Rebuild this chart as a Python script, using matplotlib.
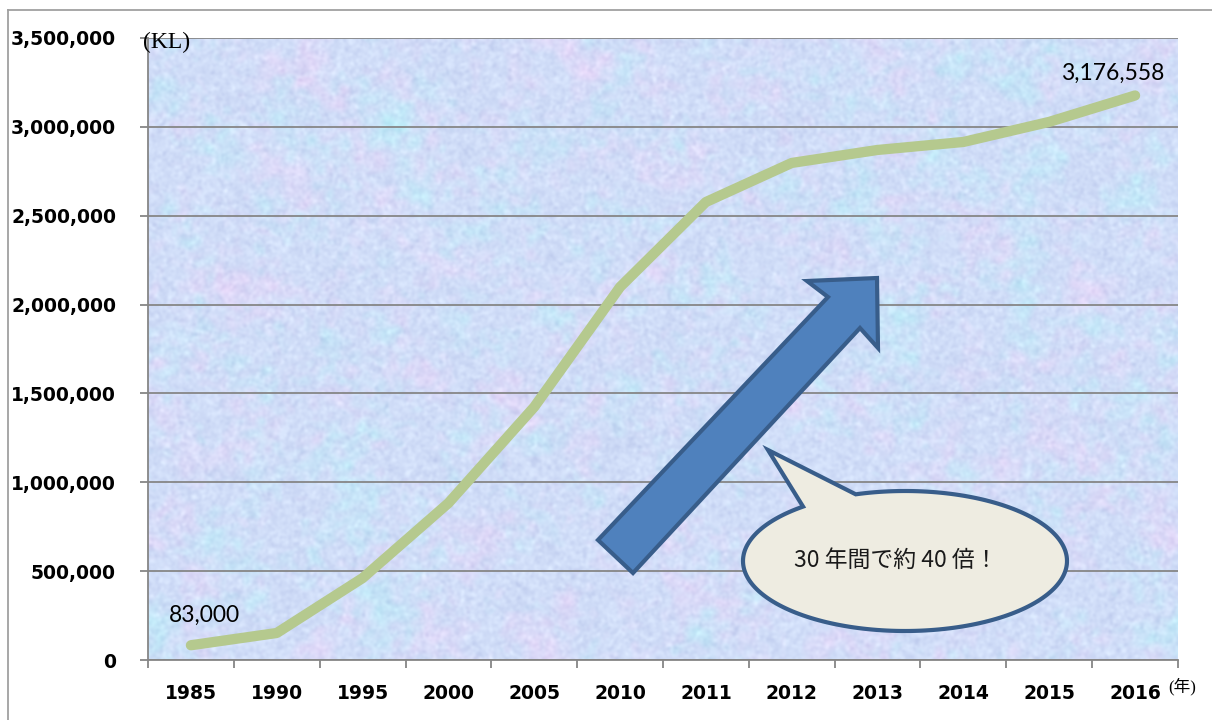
import numpy as np
import matplotlib
matplotlib.use("Agg")
import matplotlib.pyplot as plt
from matplotlib.patches import Polygon
from matplotlib.lines import Line2D

years = ['1985', '1990', '1995', '2000', '2005', '2010',
         '2011', '2012', '2013', '2014', '2015', '2016']
volume = [83000, 152000, 461000, 883000, 1424000, 2099000,
          2577000, 2797000, 2870000, 2915000, 3028000, 3176558]
yticks = [0, 500000, 1000000, 1500000, 2000000, 2500000, 3000000, 3500000]
first_label = '83,000'
last_label = '3,176,558'
note = '30 年間で約 40 倍！'

W, H = 1212, 720
fig = plt.figure(figsize=(W / 100, H / 100), dpi=100)


def px(x, y):
    # pixel position -> figure fraction
    return (x / W, 1 - y / H)


ax = fig.add_axes([148 / W, 60 / H, 1030 / W, 622 / H])


# pale textured background of the plot area
def smooth(a, s):
    fy = np.fft.fftfreq(a.shape[0])[:, None]
    fx = np.fft.fftfreq(a.shape[1])[None, :]
    g = np.exp(-2 * (np.pi * s) ** 2 * (fx ** 2 + fy ** 2))
    r = np.real(np.fft.ifft2(np.fft.fft2(a) * g))
    return r / r.std()


rng = np.random.default_rng(3)
h, w = 622, 1030
pink = 0.6 * smooth(rng.normal(size=(h, w)), 14) + 0.4 * smooth(rng.normal(size=(h, w)), 4)
cyan = 0.6 * smooth(rng.normal(size=(h, w)), 14) + 0.4 * smooth(rng.normal(size=(h, w)), 4)
grain = smooth(rng.normal(size=(h, w)), 1.5)
base = np.array([208, 221, 248], float)
img = (base[None, None, :]
       + 5 * np.clip(pink, 0, None)[..., None] * np.array([1.5, -0.5, 0.0])
       + 6 * np.clip(cyan, 0, None)[..., None] * np.array([-1.2, 0.9, 0.0])
       + 4 * grain[..., None] * np.array([1, 1, 0.6]))
img = np.clip(img, 0, 255) / 255
ax.imshow(img, extent=(-0.5, 11.5, 0, 3500000), aspect='auto', zorder=0,
          interpolation='bilinear')

x = np.arange(len(years))
ax.plot(x, volume, color='#B5C98E', lw=7.4, solid_capstyle='round',
        solid_joinstyle='round', zorder=3)

ax.set_xlim(-0.5, 11.5)
ax.set_ylim(0, 3500000)
ax.set_yticks(yticks)
ax.set_yticklabels([f'{v:,}' for v in yticks])
ax.set_xticks(x)
ax.set_xticklabels(years)
ax.set_xticks(np.arange(-0.5, 12, 1), minor=True)
ax.grid(axis='y', color='#868686', lw=1.3)
ax.set_axisbelow(False)
for gl in ax.get_ygridlines():
    gl.set_zorder(1)

for s in ['top', 'right']:
    ax.spines[s].set_visible(False)
for s in ['left', 'bottom']:
    ax.spines[s].set_color('#868686')
    ax.spines[s].set_linewidth(1.3)
    ax.spines[s].set_zorder(2)

ax.tick_params(axis='y', length=6, width=1.3, color='#868686', pad=17,
               labelsize=13.5)
ax.tick_params(axis='x', which='major', length=0, pad=17, labelsize=13.5)
ax.tick_params(axis='x', which='minor', length=6, width=1.3, color='#868686')
for lab in ax.get_xticklabels() + ax.get_yticklabels():
    lab.set_fontfamily('DejaVu Sans')
    lab.set_fontweight('bold')

ax.annotate(first_label, (x[0], volume[0]), xytext=(14, 30),
            textcoords='offset pixels', ha='center', va='center',
            fontsize=16.5, family='Lato', zorder=4)
ax.annotate(last_label, (x[-1], volume[-1]), xytext=(-22, 22),
            textcoords='offset pixels', ha='center', va='center',
            fontsize=16.5, family='Lato', zorder=4)

# unit labels
fig.text(*px(143, 42), '(KL)', family='Liberation Serif', fontsize=17,
         ha='left', va='center')
fig.text(*px(1168, 687), '(年)', family=['Liberation Serif', 'Noto Sans CJK JP'],
         fontsize=12, ha='left', va='center')

# big blue arrow
arrow_px = [(598, 540), (828, 297), (807, 281), (877, 278),
            (878, 348), (860, 328), (633, 573)]
fig.add_artist(Polygon([px(*p) for p in arrow_px], closed=True,
                       facecolor='#4F81BD', edgecolor='#385D8A', lw=3,
                       joinstyle='miter', transform=fig.transFigure, zorder=5))

# speech bubble
cx, cy, a, b = 905, 561, 162, 70
t = np.radians(np.linspace(252.3, 591, 200))
pts = [(cx + a * np.cos(tt), cy + b * np.sin(tt)) for tt in t]
pts.append((768, 450))
fig.add_artist(Polygon([px(*p) for p in pts], closed=True,
                       facecolor='#EEECE1', edgecolor='#385D8A', lw=3,
                       joinstyle='miter', transform=fig.transFigure, zorder=6))
fig.text(*px(896, 560), note, family=['Noto Sans CJK JP', 'DejaVu Sans'],
         fontsize=16.5, ha='center', va='center', zorder=7, color='#1A1A1A')

# outer chart frame
fig.add_artist(Line2D([8 / W, 1], [1 - 10 / H] * 2, color='#A0A0A0', lw=1.3,
                      transform=fig.transFigure))
fig.add_artist(Line2D([8 / W] * 2, [0, 1 - 10 / H], color='#A0A0A0', lw=1.3,
                      transform=fig.transFigure))

fig.savefig('out.png', dpi=100)
